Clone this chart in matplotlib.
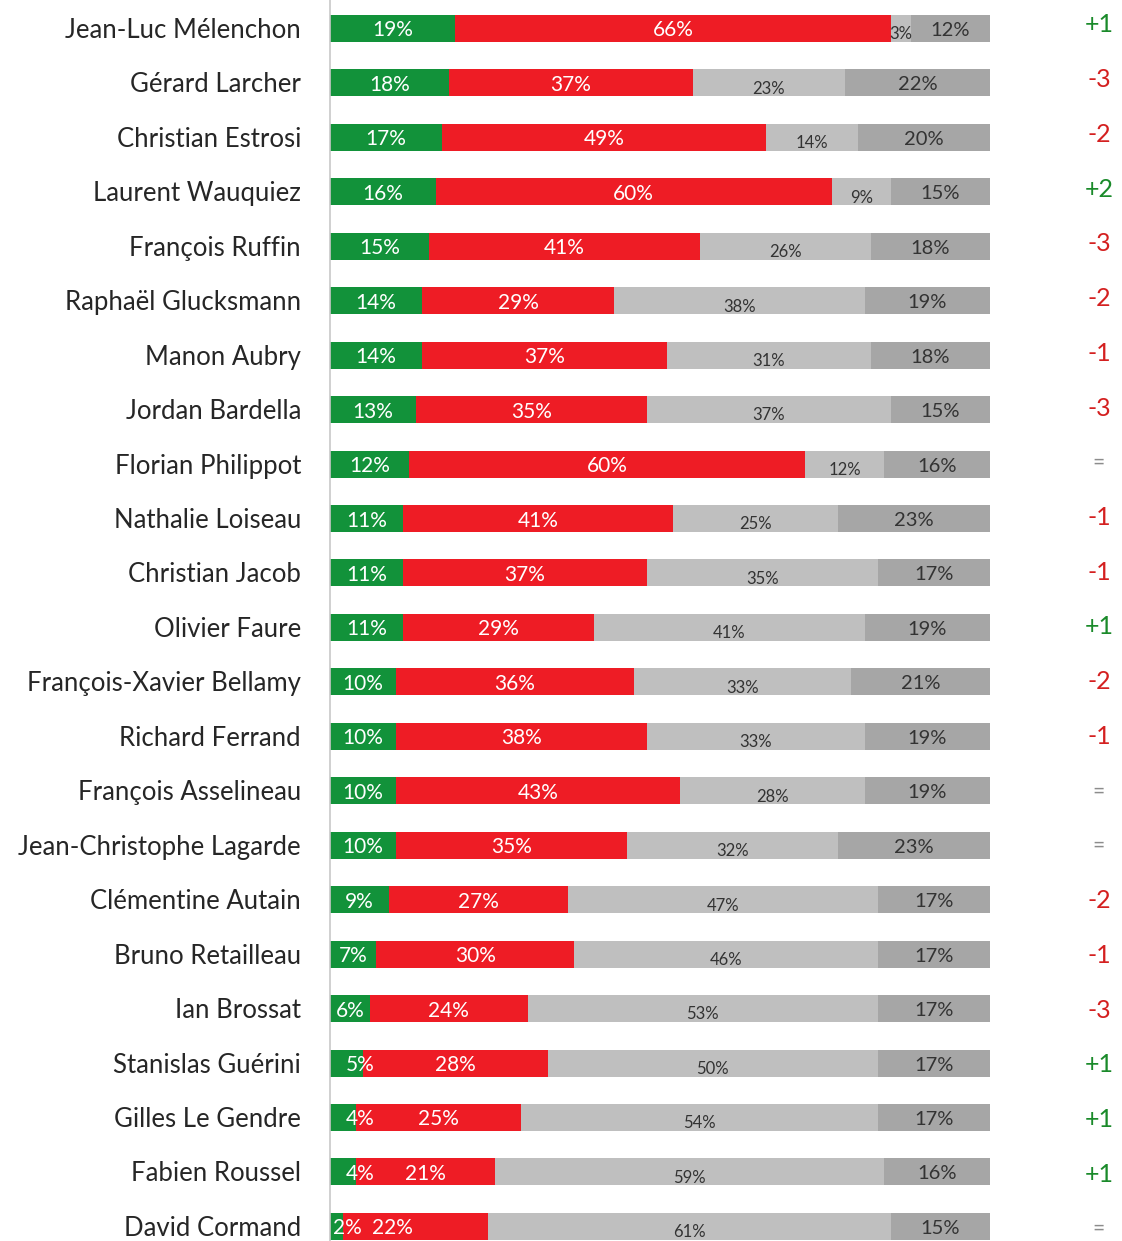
import matplotlib
matplotlib.use("Agg")
import matplotlib.pyplot as plt

names = ["Jean-Luc Mélenchon", "Gérard Larcher", "Christian Estrosi", "Laurent Wauquiez",
         "François Ruffin", "Raphaël Glucksmann", "Manon Aubry", "Jordan Bardella",
         "Florian Philippot", "Nathalie Loiseau", "Christian Jacob", "Olivier Faure",
         "François-Xavier Bellamy", "Richard Ferrand", "François Asselineau",
         "Jean-Christophe Lagarde", "Clémentine Autain", "Bruno Retailleau", "Ian Brossat",
         "Stanislas Guérini", "Gilles Le Gendre", "Fabien Roussel", "David Cormand"]
green = [19, 18, 17, 16, 15, 14, 14, 13, 12, 11, 11, 11, 10, 10, 10, 10, 9, 7, 6, 5, 4, 4, 2]
red = [66, 37, 49, 60, 41, 29, 37, 35, 60, 41, 37, 29, 36, 38, 43, 35, 27, 30, 24, 28, 25, 21, 22]
light = [3, 23, 14, 9, 26, 38, 31, 37, 12, 25, 35, 41, 33, 33, 28, 32, 47, 46, 53, 50, 54, 59, 61]
dark = [12, 22, 20, 15, 18, 19, 18, 15, 16, 23, 17, 19, 21, 19, 19, 23, 17, 17, 17, 17, 17, 16, 15]
changes = ["+1", "-3", "-2", "+2", "-3", "-2", "-1", "-3", "=", "-1", "-1", "+1", "-2", "-1",
           "=", "=", "-2", "-1", "-3", "+1", "+1", "+1", "="]

plt.rcParams['font.family'] = ['Lato', 'DejaVu Sans']

W, H = 1122, 1241
fig = plt.figure(figsize=(W / 100, H / 100), dpi=100)
ax = fig.add_axes([330 / W, 0, 660 / W, 1])
step = 54.45
y0 = 28.5
ax.set_xlim(0, 100)
ax.set_ylim((H - y0) / step, -y0 / step)
ax.axis('off')

C_GREEN = "#12923a"
C_RED = "#ee1c25"
C_LIGHT = "#bfbfbf"
C_DARK = "#a6a6a6"
TXT = "#333333"

n = len(names)
ys = list(range(n))
h = 27 / step
dy = 2 / step
left = [0] * n
segs = [(green, C_GREEN), (red, C_RED), (light, C_LIGHT), (dark, C_DARK)]
for si, (vals, col) in enumerate(segs):
    ax.barh(ys, vals, left=left, height=h, color=col, edgecolor='none')
    for i, (v, l) in enumerate(zip(vals, left)):
        cx = l + v / 2
        if si == 0:
            if v <= 5:
                cx = min(v + 0.6, 4.6)
            ax.text(cx, i + dy, f"{v}%", ha='center', va='center', color='white', fontsize=15)
        elif si == 1:
            if green[i] <= 2:
                cx -= 3.6
            ax.text(cx, i + dy, f"{v}%", ha='center', va='center', color='white', fontsize=15)
        elif si == 2:
            ax.text(cx, i + dy + 0.07, f"{v}%", ha='center', va='center', color=TXT, fontsize=12)
        else:
            ax.text(cx, i + dy, f"{v}%", ha='center', va='center', color=TXT, fontsize=14.5)
    left = [a + b for a, b in zip(left, vals)]

ax.axvline(0, color="#c8c8c8", lw=1.2, clip_on=False)

for i, name in enumerate(names):
    ax.text(-4.4, i + dy, name, ha='right', va='center', color="#262626", fontsize=18.5,
            clip_on=False)

for i, c in enumerate(changes):
    ypix = 25 + i * (1229 - 25) / (n - 1)
    yd = (ypix - y0) / step
    if c.startswith('+'):
        col, fs = "#1a8a2a", 18
    elif c.startswith('-'):
        col, fs = "#d42020", 18
    else:
        col, fs = "#8c8c8c", 15
    ax.text(116.5, yd, c, ha='center', va='center', color=col, fontsize=fs, clip_on=False)

fig.savefig("out.png", dpi=100)
